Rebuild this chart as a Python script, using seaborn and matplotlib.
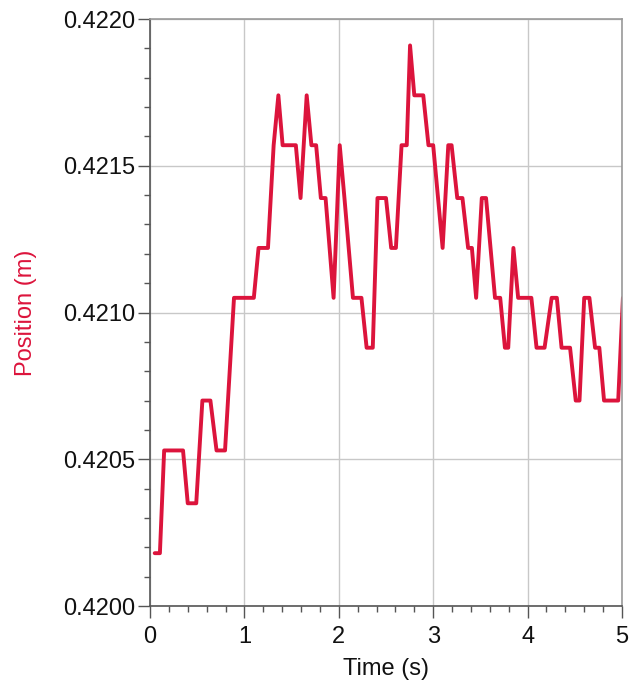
import numpy as np
import pandas as pd
import matplotlib
matplotlib.use("Agg")
import matplotlib.pyplot as plt
import seaborn as sns
from matplotlib.ticker import MultipleLocator, FormatStrFormatter

# dados (tempo em s, posicao em m)
tempo = [0.05, 0.105, 0.15, 0.35, 0.40, 0.49, 0.555, 0.64, 0.705, 0.795,
         0.89, 1.10, 1.15, 1.25, 1.31, 1.36, 1.405, 1.545, 1.595, 1.66,
         1.71, 1.76, 1.81, 1.86, 1.945, 2.01, 2.06, 2.15, 2.24, 2.295,
         2.36, 2.41, 2.50, 2.555, 2.605, 2.665, 2.72, 2.755, 2.80, 2.895,
         2.95, 3.00, 3.10, 3.16, 3.195, 3.255, 3.31, 3.37, 3.41, 3.455,
         3.515, 3.56, 3.655, 3.71, 3.76, 3.795, 3.85, 3.90, 4.04, 4.095,
         4.18, 4.255, 4.31, 4.36, 4.45, 4.51, 4.55, 4.60, 4.655, 4.715,
         4.76, 4.81, 4.96, 5.01]
posicao = [0.42018, 0.42018, 0.42053, 0.42053, 0.42035, 0.42035, 0.42070, 0.42070, 0.42053, 0.42053,
           0.42105, 0.42105, 0.42122, 0.42122, 0.42157, 0.42174, 0.42157, 0.42157, 0.42139, 0.42174,
           0.42157, 0.42157, 0.42139, 0.42139, 0.42105, 0.42157, 0.42139, 0.42105, 0.42105, 0.42088,
           0.42088, 0.42139, 0.42139, 0.42122, 0.42122, 0.42157, 0.42157, 0.42191, 0.42174, 0.42174,
           0.42157, 0.42157, 0.42122, 0.42157, 0.42157, 0.42139, 0.42139, 0.42122, 0.42122, 0.42105,
           0.42139, 0.42139, 0.42105, 0.42105, 0.42088, 0.42088, 0.42122, 0.42105, 0.42105, 0.42088,
           0.42088, 0.42105, 0.42105, 0.42088, 0.42088, 0.42070, 0.42070, 0.42105, 0.42105, 0.42088,
           0.42088, 0.42070, 0.42070, 0.42105]

df = pd.DataFrame({'Time (s)': tempo, 'Position (m)': posicao})

sns.set_style("white")
plt.rcParams['font.family'] = ['Liberation Sans', 'DejaVu Sans']

vermelho = '#DC143C'

fig = plt.figure(figsize=(6.31, 6.94), dpi=100)
ax = fig.add_axes([0.2377, 0.1268, 0.7480, 0.8458])

sns.lineplot(data=df, x='Time (s)', y='Position (m)', sort=False, ax=ax,
             color=vermelho, linewidth=2.8, clip_on=True)

ax.set_xlim(0, 5)
ax.set_ylim(0.4200, 0.4220)
ax.xaxis.set_major_locator(MultipleLocator(1))
ax.xaxis.set_minor_locator(MultipleLocator(0.2))
ax.yaxis.set_major_locator(MultipleLocator(0.0005))
ax.yaxis.set_minor_locator(MultipleLocator(0.0001))
ax.yaxis.set_major_formatter(FormatStrFormatter('%.4f'))

ax.grid(True, which='major', color='#c8c8c8', linewidth=1.0)
ax.tick_params(which='both', bottom=True, left=True, top=False, right=False)
ax.tick_params(which='major', direction='out', length=8.5, width=1.0,
               color='#555555', labelsize=17, labelcolor='#111111')
ax.tick_params(axis='x', which='major', pad=6)
ax.tick_params(axis='y', which='major', pad=2)
ax.tick_params(which='minor', direction='out', length=4.5, width=1.0, color='#555555')

for lado in ['left', 'bottom']:
    ax.spines[lado].set_color('#555555')
    ax.spines[lado].set_linewidth(1.2)
for lado in ['top', 'right']:
    ax.spines[lado].set_color('#999999')
    ax.spines[lado].set_linewidth(1.2)

ax.set_xlabel('Time (s)', fontsize=17, color='#111111', labelpad=7)
ax.set_ylabel('Position (m)', fontsize=17, color=vermelho, labelpad=19)

fig.savefig('out.png', dpi=100)
